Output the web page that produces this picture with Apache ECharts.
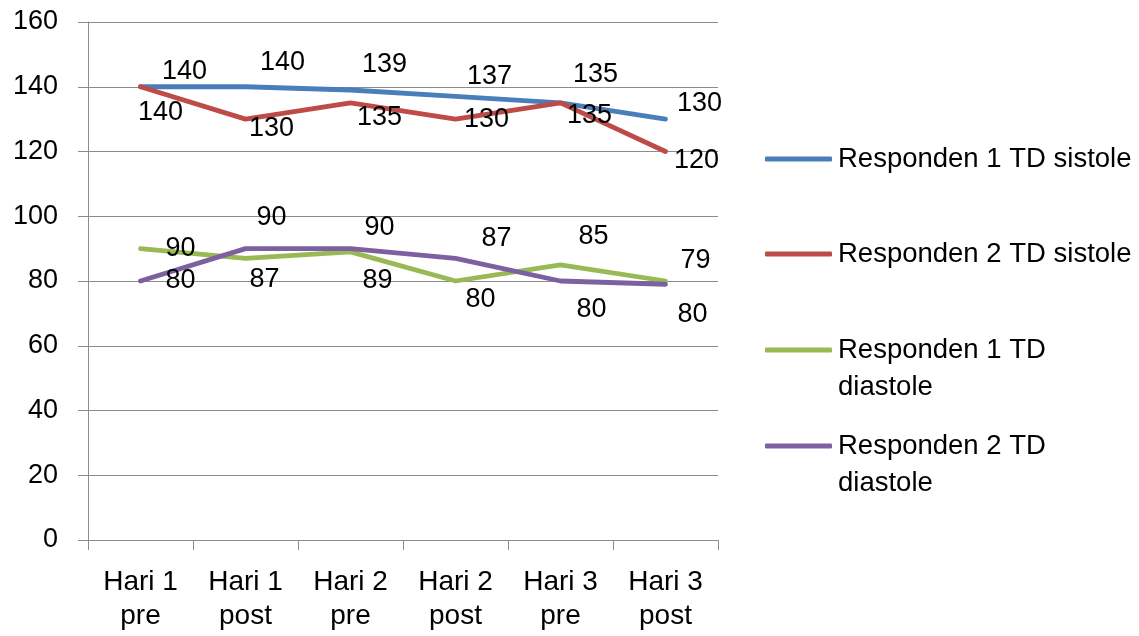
<!DOCTYPE html>
<html>
<head>
<meta charset="utf-8">
<script src="https://cdn.jsdelivr.net/npm/echarts@6/dist/echarts.min.js"></script>
<style>
html,body{margin:0;padding:0;background:#fff;}
#chart{width:1139px;height:636px;}
</style>
</head>
<body>
<div id="chart"></div>
<script>
// ---- data ----
const categories = ['Hari 1\npre', 'Hari 1\npost', 'Hari 2\npre', 'Hari 2\npost', 'Hari 3\npre', 'Hari 3\npost'];
const seriesNames = ['Responden 1 TD sistole', 'Responden 2 TD sistole', 'Responden 1 TD diastole', 'Responden 2 TD diastole'];
const r1Sistole = [140, 140, 139, 137, 135, 130];
const r2Sistole = [140, 130, 135, 130, 135, 120];
const r1Diastole = [90, 87, 89, 80, 85, 80];
const r2Diastole = [80, 90, 90, 87, 80, 79];
const yTicks = {min: 0, max: 160, interval: 20};

// ---- layout / style (not data) ----
const colors = ['#4A7EBB', '#BE4B48', '#98B954', '#7D60A0'];
const labelOffsets = [
  [[44,-15],[37,-24],[34,-25],[34,-20],[35,-28],[34,-16]],
  [[20,26],[26,9],[29,15],[31,0],[29,13],[31,9]],
  [[40,0],[19,21],[27,29],[25,19],[33,-28],[27,34]],
  [[40,0],[26,-31],[29,-21],[41,-20],[31,29],[30,-24]]
];
const legendLineH = 37;
const legendIconY = [159, 254, 350, 446];
const legendLabels = ['Responden 1 TD sistole', 'Responden 2 TD sistole', '\nResponden 1 TD\ndiastole', '\nResponden 2 TD\ndiastole'];
const FONT = '"Liberation Sans", Arial, sans-serif';
const gridColor = '#8C8C8C';

const allValues = [r1Sistole, r2Sistole, r1Diastole, r2Diastole];

const series = allValues.map((vals, s) => ({
  name: seriesNames[s],
  type: 'line',
  symbol: 'circle',
  symbolSize: 1,
  showSymbol: true,
  z: 2 + s,
  lineStyle: {color: colors[s], width: 4.8, cap: 'round', join: 'round'},
  itemStyle: {color: colors[s]},
  emphasis: {disabled: true},
  label: {
    show: true,
    position: 'inside',
    color: '#000',
    fontFamily: FONT,
    fontSize: 27
  },
  data: vals.map((v, i) => ({value: v, label: {offset: labelOffsets[s][i]}}))
}));

const legends = seriesNames.map((name, s) => {
  const lines = legendLabels[s].split('\n').length;
  return {
    data: [name],
    orient: 'vertical',
    left: 765,
    top: legendIconY[s] - lines * legendLineH / 2,
    padding: 0,
    icon: 'roundRect',
    itemWidth: 67,
    itemHeight: 5,
    itemGap: 0,
    selectedMode: false,
    formatter: () => legendLabels[s],
    textStyle: {
      color: '#000',
      fontFamily: FONT,
      fontSize: 27.5,
      lineHeight: legendLineH,
      padding: [0, 0, 0, 1]
    }
  };
});

const chart = echarts.init(document.getElementById('chart'), null, {renderer: 'canvas'});
chart.setOption({
  animation: false,
  backgroundColor: '#fff',
  grid: {left: 88, right: 421, top: 22, bottom: 96, containLabel: false},
  legend: legends,
  xAxis: {
    type: 'category',
    data: categories,
    boundaryGap: true,
    axisLine: {show: true, lineStyle: {color: gridColor, width: 1}},
    axisTick: {show: true, length: 10, lineStyle: {color: gridColor}},
    axisLabel: {color: '#000', fontFamily: FONT, fontSize: 28, lineHeight: 34, margin: 25, interval: 0}
  },
  yAxis: {
    type: 'value',
    min: yTicks.min,
    max: yTicks.max,
    interval: yTicks.interval,
    axisLine: {show: true, lineStyle: {color: gridColor, width: 1}},
    axisTick: {show: true, length: 10, lineStyle: {color: gridColor}},
    splitLine: {show: true, lineStyle: {color: gridColor, width: 1}},
    axisLabel: {color: '#000', fontFamily: FONT, fontSize: 27, margin: 30}
  },
  series: series
});
</script>
</body>
</html>
